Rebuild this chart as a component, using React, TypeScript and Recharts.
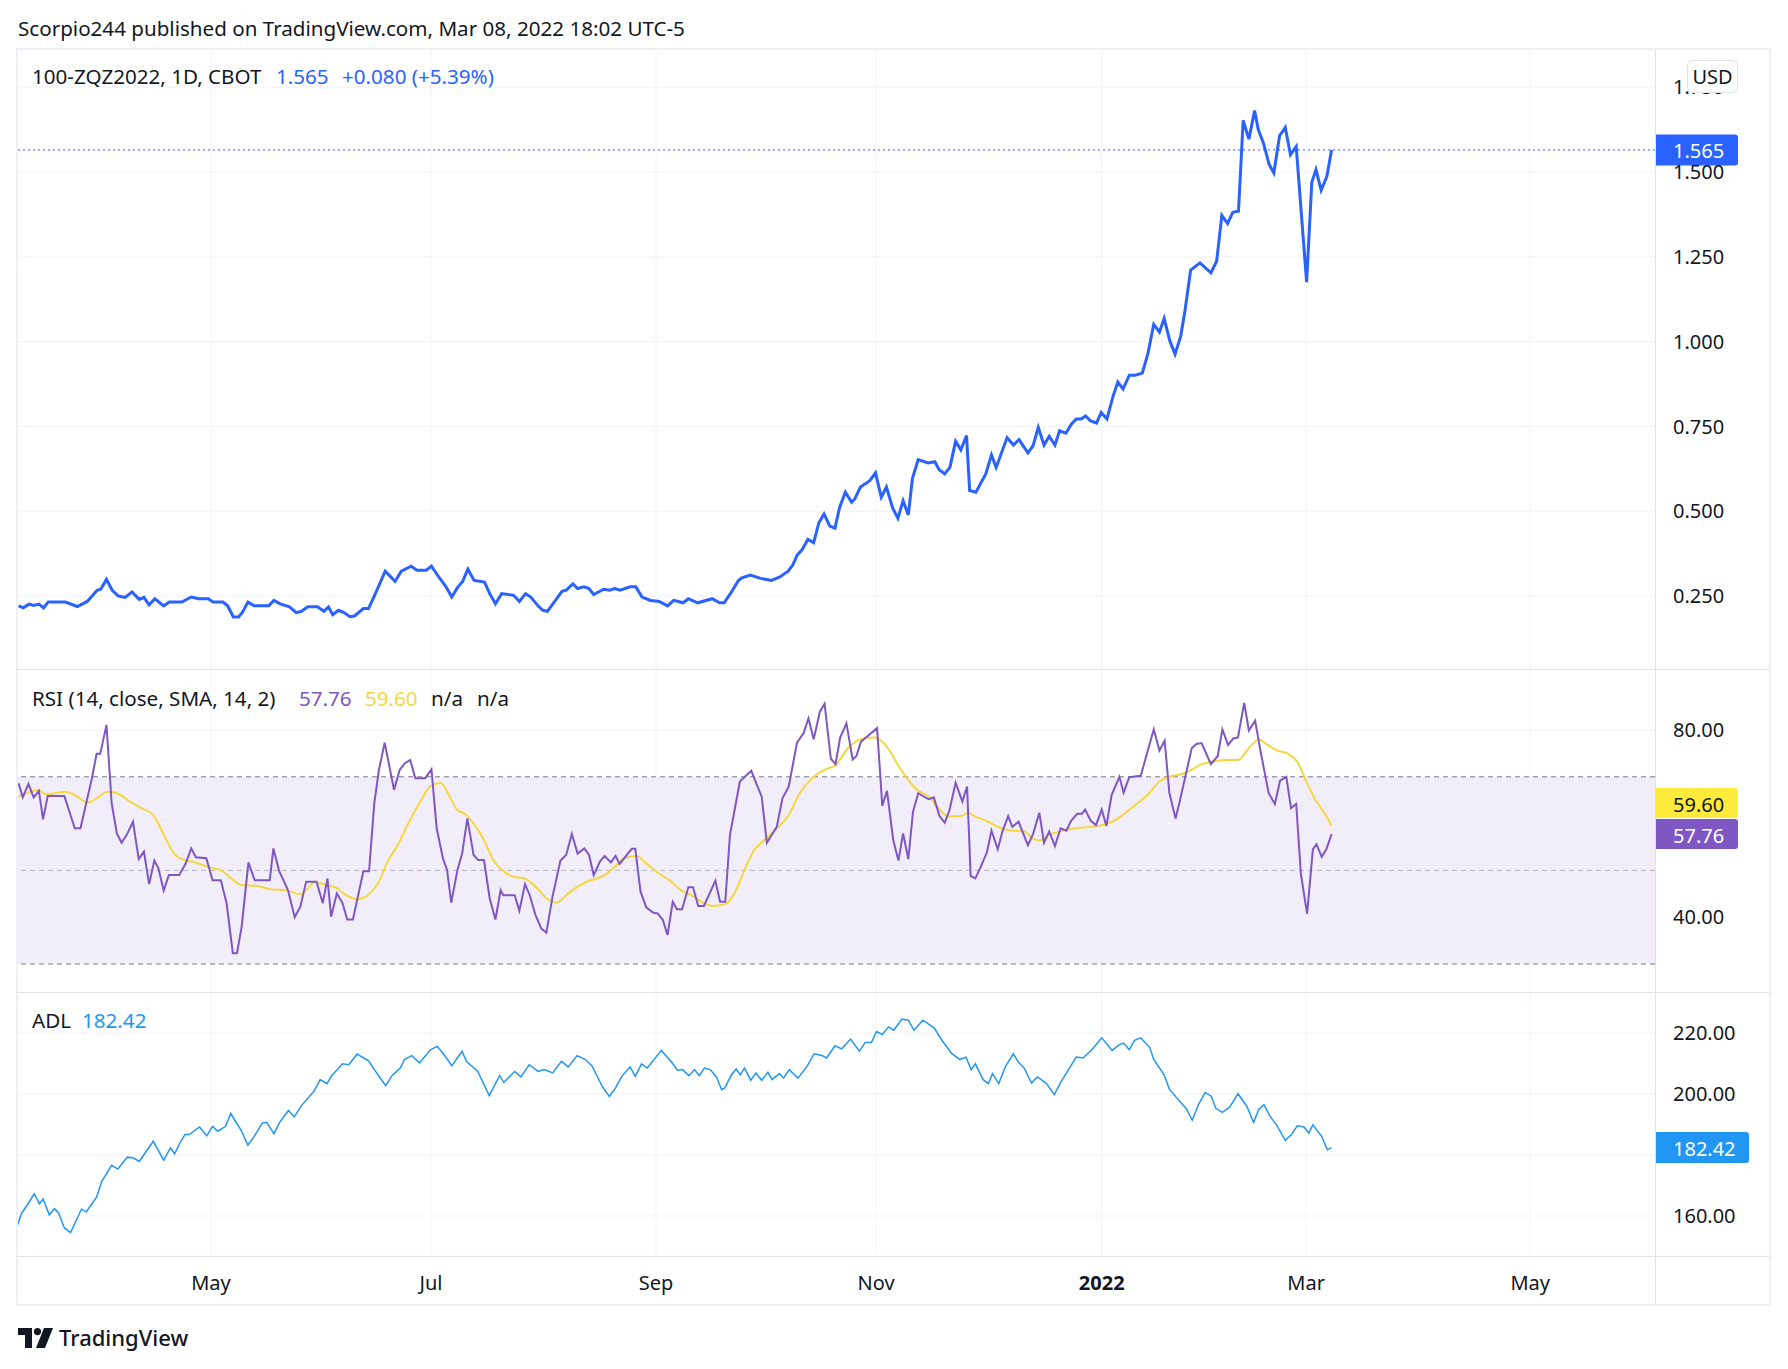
import React from 'react';
import { LineChart, Line, XAxis, YAxis, ReferenceLine, ReferenceArea } from 'recharts';

const FONT = '"Noto Sans", "Open Sans", sans-serif';
const INK = '#131722';
const BLUE = '#2962ff';
const PURPLE = '#7e57c2';
const YELLOW = '#f5d73c';
const ADL_BLUE = '#2196f3';
const GRID = '#f0f3fa';
const EDGE = '#e0e3eb';

// time axis (bar index) ticks
const monthTicks = [37.5, 79.8, 123.1, 165.4, 208.8, 248.1, 291.2];
const monthLabels = ['May', 'Jul', 'Sep', 'Nov', '2022', 'Mar', 'May'];

// 100-ZQZ2022 close
const priceBars = [
  0.5, 1.4, 2.5, 3.4, 4.4, 5.3, 6.2, 9.5, 11.8, 13.7, 15.6, 16.3, 17.4, 18.5, 19.7, 21.0, 22.3, 23.7, 24.6, 25.6,
  26.7, 28.4, 29.5, 31.9, 33.7, 35.1, 37.0, 37.9, 39.8, 40.7, 41.8, 42.8, 43.5, 44.6, 45.8, 48.6, 49.6, 50.8, 52.6, 53.9,
  54.9, 56.1, 58.0, 59.2, 60.1, 60.9, 62.0, 63.1, 64.2, 65.1, 66.8, 67.8, 68.9, 69.8, 71.0, 72.9, 74.1, 76.0, 77.1, 78.9,
  79.9, 81.3, 82.7, 83.8, 85.0, 85.9, 86.9, 88.1, 90.1, 91.1, 92.2, 93.4, 95.7, 96.8, 98.0, 99.0, 100.4, 101.3, 102.2, 105.0,
  105.8, 107.1, 108.0, 109.2, 110.2, 111.1, 113.0, 114.2, 115.1, 116.2, 118.1, 119.2, 120.4, 122.0, 123.7, 125.3, 126.5, 128.3, 129.3, 131.1,
  133.9, 135.3, 136.2, 137.6, 138.9, 139.5, 141.2, 143.2, 145.3, 146.9, 148.5, 149.4, 150.2, 151.2, 152.3, 153.4, 154.4, 155.4, 156.5, 157.5,
  158.4, 159.5, 160.7, 161.3, 162.4, 164.2, 165.3, 166.4, 167.4, 168.6, 169.6, 170.6, 171.6, 172.4, 173.5, 175.4, 176.7, 177.5, 178.6, 179.6,
  180.7, 181.7, 182.8, 183.4, 184.6, 186.5, 187.6, 188.5, 190.6, 191.8, 192.9, 194.6, 195.6, 196.6, 197.7, 198.7, 199.8, 200.7, 201.9, 203.0,
  203.9, 204.9, 205.7, 206.6, 207.8, 208.7, 209.8, 211.0, 211.9, 212.9, 214.1, 215.2, 216.6, 217.7, 218.8, 219.9, 220.8, 221.9, 222.9, 224.0,
  224.8, 225.9, 227.7, 229.8, 230.9, 231.9, 233.0, 234.0, 235.1, 236.0, 237.1, 238.2, 238.9, 239.9, 241.0, 241.9, 243.0, 244.1, 245.1, 246.2,
  248.2, 249.2, 250.0, 251.0, 252.1, 253.0,
];
const priceVals = [
  0.221, 0.215, 0.226, 0.222, 0.226, 0.215, 0.232, 0.232, 0.219, 0.234, 0.267, 0.270, 0.299, 0.267, 0.250, 0.246, 0.262, 0.240, 0.246, 0.224,
  0.242, 0.221, 0.232, 0.232, 0.247, 0.242, 0.242, 0.232, 0.232, 0.221, 0.188, 0.188, 0.201, 0.232, 0.221, 0.221, 0.237, 0.227, 0.218, 0.201,
  0.205, 0.218, 0.218, 0.205, 0.218, 0.195, 0.208, 0.201, 0.189, 0.191, 0.213, 0.213, 0.250, 0.281, 0.323, 0.293, 0.323, 0.338, 0.326, 0.326,
  0.338, 0.306, 0.277, 0.247, 0.277, 0.293, 0.329, 0.296, 0.291, 0.257, 0.227, 0.257, 0.252, 0.234, 0.257, 0.247, 0.221, 0.208, 0.205, 0.264,
  0.267, 0.286, 0.272, 0.277, 0.272, 0.254, 0.270, 0.267, 0.272, 0.267, 0.277, 0.277, 0.247, 0.237, 0.234, 0.221, 0.237, 0.230, 0.242, 0.230,
  0.242, 0.230, 0.230, 0.262, 0.295, 0.303, 0.312, 0.302, 0.296, 0.306, 0.323, 0.342, 0.370, 0.387, 0.417, 0.407, 0.466, 0.492, 0.456, 0.450,
  0.512, 0.556, 0.526, 0.536, 0.571, 0.590, 0.613, 0.541, 0.571, 0.509, 0.479, 0.531, 0.489, 0.597, 0.652, 0.642, 0.646, 0.623, 0.610, 0.629,
  0.706, 0.681, 0.723, 0.561, 0.556, 0.610, 0.666, 0.629, 0.717, 0.695, 0.711, 0.672, 0.693, 0.747, 0.695, 0.721, 0.695, 0.737, 0.730, 0.757,
  0.772, 0.772, 0.781, 0.767, 0.760, 0.791, 0.772, 0.840, 0.881, 0.860, 0.901, 0.901, 0.907, 0.966, 1.051, 1.028, 1.068, 1.002, 0.963, 1.017,
  1.090, 1.211, 1.232, 1.203, 1.237, 1.372, 1.348, 1.381, 1.384, 1.652, 1.597, 1.681, 1.625, 1.585, 1.522, 1.497, 1.607, 1.631, 1.551, 1.575,
  1.175, 1.470, 1.507, 1.446, 1.487, 1.565,
];

// RSI (14)
const rsiBars = [
  0.5, 1.3, 2.4, 3.4, 4.4, 5.2, 6.1, 9.3, 11.3, 12.4, 14.6, 15.5, 16.2, 17.4, 18.4, 19.4, 20.3, 21.3, 22.5, 23.6,
  24.6, 25.6, 26.6, 27.4, 28.4, 29.4, 31.4, 32.6, 33.7, 34.6, 36.6, 37.8, 39.4, 40.5, 41.7, 42.5, 43.4, 44.7, 45.9, 48.8,
  49.5, 50.6, 52.3, 53.6, 54.7, 55.8, 57.8, 59.0, 59.9, 60.6, 61.7, 62.8, 63.7, 64.8, 66.8, 67.9, 68.9, 69.8, 70.9, 72.7,
  73.8, 74.8, 75.8, 76.8, 78.7, 79.9, 80.9, 82.1, 82.9, 83.7, 84.9, 85.8, 86.8, 88.0, 88.9, 90.0, 91.1, 92.2, 93.2, 93.7,
  95.9, 96.8, 97.9, 98.8, 99.9, 101.0, 102.0, 103.2, 104.7, 105.8, 106.9, 108.0, 109.3, 110.2, 111.1, 112.3, 113.2, 114.4, 115.3, 116.1,
  118.4, 119.1, 120.1, 121.2, 122.5, 123.4, 124.4, 125.3, 126.3, 127.1, 128.1, 129.3, 130.2, 131.2, 132.3, 134.5, 135.4, 136.4, 137.3, 138.2,
  139.2, 141.4, 142.5, 143.4, 144.4, 146.3, 147.4, 148.6, 150.2, 151.5, 152.4, 153.4, 154.6, 155.5, 156.7, 157.6, 158.5, 159.7, 160.9, 161.6,
  162.5, 164.2, 165.6, 166.6, 167.5, 168.7, 169.7, 170.6, 171.6, 172.5, 173.5, 175.5, 176.5, 177.6, 178.6, 179.5, 180.7, 182.0, 182.9, 183.6,
  184.5, 185.5, 186.7, 187.6, 188.8, 189.7, 190.8, 191.6, 192.8, 194.6, 195.6, 196.8, 197.7, 198.7, 199.8, 200.9, 202.0, 202.9, 204.1, 205.0,
  205.6, 206.7, 207.7, 208.8, 209.7, 210.7, 212.2, 213.0, 214.1, 216.3, 218.8, 219.9, 220.9, 221.8, 223.0, 223.9, 226.1, 227.0, 228.0, 229.8,
  231.1, 232.0, 233.1, 234.1, 235.0, 236.2, 237.1, 238.3, 239.3, 240.9, 242.1, 243.1, 244.3, 245.2, 246.2, 247.1, 248.3, 249.4, 250.1, 251.1,
  252.0, 253.0,
];
const rsiVals = [
  68.6, 65.6, 68.5, 65.6, 67.0, 60.9, 65.9, 65.9, 59.0, 59.0, 69.7, 74.9, 74.9, 81.1, 64.3, 57.9, 55.9, 57.6, 60.4, 52.4,
  54.0, 47.1, 52.1, 50.4, 45.7, 49.0, 49.0, 51.4, 54.7, 52.8, 52.6, 47.9, 47.9, 43.0, 32.3, 32.3, 38.0, 51.7, 47.9, 47.9,
  54.7, 49.9, 45.8, 40.0, 42.3, 47.6, 47.6, 43.0, 48.3, 40.1, 45.1, 43.0, 39.5, 39.5, 49.8, 49.8, 64.3, 71.5, 77.3, 67.2,
  71.5, 72.9, 73.6, 69.7, 69.7, 71.6, 59.0, 52.6, 50.1, 43.1, 50.1, 53.6, 61.1, 53.3, 52.2, 52.2, 44.0, 39.5, 45.8, 44.7,
  44.7, 41.4, 47.1, 44.7, 40.5, 37.6, 36.7, 44.5, 52.1, 53.3, 57.8, 53.6, 54.7, 53.3, 49.0, 51.9, 53.1, 51.7, 53.1, 51.4,
  54.6, 54.6, 45.5, 42.1, 41.0, 40.8, 39.4, 36.2, 43.3, 41.7, 41.7, 46.4, 46.4, 42.4, 42.4, 47.8, 43.3, 43.3, 57.6, 62.9,
  69.0, 71.3, 68.2, 65.8, 55.9, 59.3, 65.4, 67.9, 77.3, 79.4, 82.5, 78.0, 83.9, 85.6, 73.9, 72.7, 78.4, 81.4, 73.7, 74.4,
  77.5, 79.1, 80.4, 63.8, 67.0, 56.5, 52.1, 57.9, 52.4, 62.5, 66.5, 65.2, 65.6, 61.6, 60.2, 62.8, 68.7, 64.7, 67.9, 48.8,
  48.3, 50.7, 53.8, 58.5, 54.5, 58.3, 61.6, 59.3, 60.4, 55.4, 57.8, 62.3, 55.9, 58.3, 55.2, 59.0, 58.5, 60.6, 62.1, 62.1,
  63.0, 60.6, 59.7, 63.0, 59.5, 66.1, 70.0, 66.6, 69.9, 70.2, 80.1, 75.6, 77.7, 66.6, 61.1, 65.2, 76.1, 77.0, 77.2, 72.7,
  74.4, 80.1, 76.8, 78.2, 78.4, 85.8, 79.9, 82.0, 75.7, 66.5, 64.2, 69.2, 70.0, 63.3, 64.2, 49.2, 40.7, 54.5, 55.6, 52.9,
  54.5, 57.76,
];

// RSI-based SMA (14)
const smaBars = [
  0.5, 2.1, 4.3, 5.7, 7.6, 9.4, 11.3, 13.8, 16.0, 17.5, 19.4, 21.9, 24.1, 26.4, 28.6, 30.4, 31.9, 34.5, 37.0, 39.6,
  41.8, 43.3, 46.2, 48.8, 52.1, 54.7, 55.8, 57.6, 59.5, 61.7, 63.5, 65.7, 67.6, 69.8, 71.6, 73.4, 75.6, 77.9, 79.7, 81.7,
  83.4, 84.9, 86.3, 88.2, 90.0, 91.8, 93.7, 95.5, 97.7, 99.6, 102.1, 104.0, 105.8, 108.0, 110.2, 111.3, 113.2, 115.1, 117.0, 119.4,
  121.2, 123.6, 126.0, 127.9, 130.2, 132.6, 134.0, 136.4, 138.5, 139.7, 142.0, 143.9, 146.3, 148.6, 150.5, 152.9, 155.7, 157.6, 160.0, 162.3,
  165.2, 167.5, 169.9, 173.2, 175.7, 177.4, 179.3, 181.7, 183.1, 184.5, 186.9, 189.5, 191.6, 194.0, 195.4, 196.8, 198.7, 201.5, 203.9, 206.7,
  210.5, 212.4, 214.7, 217.6, 219.9, 221.8, 224.2, 226.1, 228.0, 229.8, 232.2, 235.0, 237.1, 239.0, 240.7, 242.6, 244.5, 246.4, 248.3, 250.1,
  251.9, 253.0,
];
const smaVals = [
  65.8, 66.5, 67.2, 66.3, 66.5, 66.8, 66.1, 64.5, 65.8, 66.8, 66.5, 64.7, 63.3, 61.8, 57.2, 53.6, 52.4, 51.7, 50.7, 49.9,
  47.9, 46.9, 46.7, 46.0, 45.7, 44.9, 45.8, 47.5, 46.9, 46.2, 44.7, 43.8, 44.7, 47.6, 52.2, 55.4, 60.4, 65.0, 68.0, 68.7,
  65.8, 62.9, 62.1, 59.7, 56.5, 52.2, 49.9, 48.7, 48.3, 46.9, 44.0, 43.1, 44.7, 46.5, 47.8, 48.1, 49.0, 50.7, 52.6, 53.1,
  51.5, 49.4, 47.6, 45.8, 44.5, 42.8, 42.4, 42.8, 45.8, 49.0, 54.4, 56.5, 59.0, 61.8, 66.1, 69.5, 71.6, 72.5, 76.1, 78.0,
  78.4, 76.4, 72.0, 67.3, 65.6, 63.3, 61.5, 61.6, 62.3, 61.5, 60.4, 59.0, 58.5, 58.3, 56.9, 56.4, 57.6, 58.5, 59.0, 59.3,
  60.2, 61.5, 63.5, 66.1, 69.0, 70.0, 70.6, 71.5, 72.7, 73.2, 73.6, 73.6, 76.1, 77.9, 76.8, 75.6, 75.0, 73.2, 68.6, 64.7,
  61.8, 59.6,
];

// Advance/Decline line
const adlBars = [
  0.2, 1.1, 2.2, 3.5, 4.5, 5.2, 6.4, 7.4, 8.2, 9.3, 10.5, 12.6, 13.5, 15.5, 16.5, 18.4, 19.6, 21.4, 22.6, 23.7,
  26.4, 28.4, 29.7, 30.5, 31.7, 32.5, 33.3, 35.3, 36.7, 37.8, 38.8, 40.3, 41.3, 43.3, 44.6, 45.8, 47.4, 48.2, 49.6, 50.7,
  52.4, 53.5, 54.9, 57.3, 58.5, 59.8, 60.7, 62.8, 64.0, 65.6, 67.8, 69.8, 71.1, 72.3, 73.9, 74.7, 76.1, 77.6, 79.7, 81.0,
  82.2, 83.8, 85.8, 86.6, 88.8, 91.0, 93.0, 93.8, 95.9, 97.1, 98.7, 100.4, 101.6, 103.2, 104.9, 106.2, 107.9, 109.5, 110.8, 112.8,
  114.1, 115.3, 116.5, 118.1, 119.1, 120.3, 121.4, 124.1, 126.1, 127.2, 128.2, 129.4, 130.5, 131.4, 132.4, 133.5, 134.7, 135.7, 136.3, 137.6,
  138.5, 139.3, 140.1, 141.3, 142.3, 143.4, 144.6, 145.4, 146.8, 147.6, 148.7, 150.4, 152.2, 153.5, 155.0, 155.9, 157.5, 158.8, 160.5, 162.2,
  163.3, 164.5, 165.5, 166.6, 167.8, 168.8, 170.4, 171.6, 172.7, 174.4, 176.6, 178.2, 179.9, 181.5, 182.7, 183.7, 184.5, 186.0, 187.0, 187.8,
  189.0, 190.3, 191.8, 192.8, 193.9, 195.3, 196.4, 198.1, 199.7, 200.9, 203.0, 203.9, 205.2, 206.9, 208.8, 210.8, 212.2, 213.0, 214.1, 215.1,
  216.3, 218.0, 218.8, 220.8, 221.8, 223.4, 225.1, 226.2, 227.4, 228.7, 229.9, 230.7, 232.0, 233.4, 235.0, 236.7, 238.0, 239.0, 240.0, 241.1,
  242.4, 244.1, 245.3, 246.4, 247.7, 248.6, 249.4, 251.1, 252.2, 253.0,
];
const adlVals = [
  156.6, 161.0, 163.7, 167.3, 164.0, 165.6, 160.4, 162.4, 161.0, 156.1, 154.6, 162.3, 161.3, 166.2, 171.4, 176.6, 175.4, 179.3, 179.0, 177.9,
  184.5, 178.3, 182.3, 180.4, 184.5, 186.7, 186.7, 189.2, 186.3, 189.4, 187.8, 189.4, 193.6, 188.1, 183.2, 186.1, 190.5, 190.7, 187.0, 190.7,
  194.6, 192.5, 196.2, 200.9, 204.7, 203.4, 206.0, 209.9, 209.6, 213.1, 210.9, 205.8, 202.7, 206.0, 208.5, 211.3, 212.6, 210.2, 214.5, 215.6,
  213.2, 209.3, 214.0, 210.7, 207.4, 199.5, 206.0, 203.8, 207.4, 205.6, 209.6, 207.4, 208.0, 206.9, 210.7, 208.9, 212.6, 211.3, 209.1, 202.3,
  199.2, 202.0, 205.8, 208.9, 205.8, 209.9, 208.5, 214.3, 210.4, 207.8, 208.0, 206.0, 208.0, 206.0, 208.5, 208.0, 205.6, 201.4, 202.0, 206.3,
  208.2, 206.3, 208.5, 204.5, 206.9, 204.5, 207.1, 204.7, 206.7, 205.2, 208.0, 205.2, 209.3, 213.2, 212.6, 211.8, 215.8, 214.8, 218.0, 214.0,
  216.9, 216.9, 220.5, 219.5, 222.0, 220.9, 224.6, 224.2, 220.9, 224.2, 221.6, 217.3, 213.4, 211.3, 212.1, 208.0, 209.9, 204.7, 203.4, 206.7,
  203.4, 209.1, 213.2, 210.4, 208.5, 203.6, 205.6, 203.6, 199.8, 203.8, 209.6, 212.1, 211.8, 214.5, 218.4, 214.3, 216.2, 216.7, 214.5, 217.6,
  218.4, 215.4, 211.3, 206.3, 201.6, 198.4, 195.1, 191.4, 196.5, 200.5, 199.2, 195.4, 194.0, 195.7, 200.1, 196.0, 190.7, 194.9, 196.5, 192.9,
  189.9, 184.8, 186.7, 189.6, 189.2, 187.2, 189.9, 186.1, 181.7, 182.42,
];

const priceTicks = [0.25, 0.5, 0.75, 1.0, 1.25, 1.5, 1.75];
const rsiGrid = [40, 60, 80];
const rsiTicks = [40, 80];
const adlGrid = [160, 180, 200, 220];
const adlTicks = [160, 200, 220];

const lastPrice = 1.565;
const lastRsi = 57.76;
const lastSma = 59.6;
const lastAdl = 182.42;

const toRows = (bars: number[], vals: number[]) => bars.map((i, k) => ({ i, v: vals[k] }));
const priceData = toRows(priceBars, priceVals);
const rsiData = toRows(rsiBars, rsiVals);
const smaData = toRows(smaBars, smaVals);
const adlData = toRows(adlBars, adlVals);

// layout
const LEFT = 16;
const CHART_W = 1754;
const AXIS_W = 115;
const BAR_DOMAIN: [number, number] = [0, 315.2];

const tickStyle = { fill: INK, fontSize: 20, fontFamily: FONT };

function Txt({ x, y, children, color = INK, size = 20.6, weight = 400 }: any) {
  return (
    <div
      style={{
        position: 'absolute', left: x, top: y - 15, height: 30, lineHeight: '30px',
        fontSize: size, color, fontWeight: weight, whiteSpace: 'nowrap', fontFamily: FONT,
      }}
    >
      {children}
    </div>
  );
}

function tag(text: string, bg: string, fg: string, w: number) {
  return (props: any) => {
    const vb = props.viewBox || {};
    const x = vb.x + vb.width;
    const y = vb.y;
    return (
      <g>
        <path d={`M${x},${y - 15.5} h${w - 3} a3,3 0 0 1 3,3 v25 a3,3 0 0 1 -3,3 h${-(w - 3)} z`} fill={bg} />
        <text x={x + 18} y={y + 1} dominantBaseline="central" fill={fg} fontSize={20} fontFamily={FONT}>{text}</text>
      </g>
    );
  };
}

// yellow MA tag stacked above the purple RSI tag
function rsiTags(props: any) {
  const vb = props.viewBox || {};
  const x = vb.x + vb.width;
  const y = vb.y;
  const w = 83;
  const box = (cy: number, bg: string, fg: string, text: string) => (
    <g>
      <path d={`M${x},${cy - 15} h${w - 3} a3,3 0 0 1 3,3 v24 a3,3 0 0 1 -3,3 h${-(w - 3)} z`} fill={bg} />
      <text x={x + 18} y={cy + 1} dominantBaseline="central" fill={fg} fontSize={20} fontFamily={FONT}>{text}</text>
    </g>
  );
  return (
    <g>
      {box(y - 31, '#ffeb3b', INK, lastSma.toFixed(2))}
      {box(y, PURPLE, '#ffffff', lastRsi.toFixed(2))}
    </g>
  );
}

const TimeTick = (props: any) => {
  const { x, y, payload } = props;
  const k = monthTicks.indexOf(payload.value);
  const label = monthLabels[k] ?? '';
  return (
    <text x={x} y={y + 26} textAnchor="middle" dominantBaseline="central" fill={INK}
      fontSize={20} fontFamily={FONT} fontWeight={label === '2022' ? 700 : 400}>
      {label}
    </text>
  );
};

const vGrid = () =>
  monthTicks.map((t) => <ReferenceLine key={`v${t}`} x={t} stroke={GRID} strokeWidth={1} />);

export default function App() {
  return (
    <div style={{ position: 'absolute', left: 0, top: 0, width: 1788, height: 1369, background: '#fff', fontFamily: FONT, overflow: 'hidden' }}>
      <Txt x={18} y={28}>Scorpio244 published on TradingView.com, Mar 08, 2022 18:02 UTC-5</Txt>

      {/* price pane */}
      <div style={{ position: 'absolute', left: LEFT, top: 49 }}>
        <LineChart width={CHART_W} height={620} margin={{ top: 0, right: 0, bottom: 0, left: 0 }}>
          <XAxis type="number" dataKey="i" domain={BAR_DOMAIN} hide allowDataOverflow />
          <YAxis orientation="right" width={AXIS_W} domain={[0.0348, 1.8626]} ticks={priceTicks}
            tickFormatter={(v: number) => v.toFixed(3)} tick={tickStyle} tickLine={false} axisLine={false}
            tickSize={0} tickMargin={18} allowDataOverflow interval={0} />
          {vGrid()}
          {priceTicks.map((t) => <ReferenceLine key={`h${t}`} y={t} stroke={GRID} />)}
          <ReferenceLine y={lastPrice} stroke={BLUE} strokeDasharray="2 3" label={tag(lastPrice.toFixed(3), BLUE, '#ffffff', 83)} />
          <Line data={priceData} dataKey="v" type="linear" stroke={BLUE} strokeWidth={3} dot={false} activeDot={false} isAnimationActive={false} />
        </LineChart>
      </div>

      {/* RSI pane */}
      <div style={{ position: 'absolute', left: LEFT, top: 669 }}>
        <LineChart width={CHART_W} height={323} margin={{ top: 0, right: 0, bottom: 0, left: 0 }}>
          <XAxis type="number" dataKey="i" domain={BAR_DOMAIN} hide allowDataOverflow />
          <YAxis orientation="right" width={AXIS_W} domain={[24.02, 93.03]} ticks={rsiTicks}
            tickFormatter={(v: number) => v.toFixed(2)} tick={tickStyle} tickLine={false} axisLine={false}
            tickSize={0} tickMargin={18} allowDataOverflow interval={0} />
          <ReferenceArea y1={30} y2={70} fill={PURPLE} fillOpacity={0.1} stroke="none" />
          {vGrid()}
          {rsiGrid.map((t) => <ReferenceLine key={`h${t}`} y={t} stroke={GRID} />)}
          <ReferenceLine y={70} stroke="#787b86" strokeDasharray="5 4" />
          <ReferenceLine y={50} stroke="rgba(120,123,134,0.5)" strokeDasharray="5 4" />
          <ReferenceLine y={30} stroke="#787b86" strokeDasharray="5 4" />
          <Line data={smaData} dataKey="v" type="monotone" stroke={YELLOW} strokeWidth={2} dot={false} activeDot={false} isAnimationActive={false} />
          <Line data={rsiData} dataKey="v" type="linear" stroke={PURPLE} strokeWidth={2} dot={false} activeDot={false} isAnimationActive={false} />
          <ReferenceLine y={lastRsi} stroke="none" label={rsiTags} />
        </LineChart>
      </div>

      {/* ADL pane + time axis */}
      <div style={{ position: 'absolute', left: LEFT, top: 992 }}>
        <LineChart width={CHART_W} height={313} margin={{ top: 0, right: 0, bottom: 0, left: 0 }}>
          <XAxis type="number" dataKey="i" domain={BAR_DOMAIN} ticks={monthTicks} interval={0} height={49}
            tick={TimeTick} tickLine={false} axisLine={false} tickSize={0} tickMargin={0} allowDataOverflow />
          <YAxis orientation="right" width={AXIS_W} domain={[146.89, 233.44]} ticks={adlTicks}
            tickFormatter={(v: number) => v.toFixed(2)} tick={tickStyle} tickLine={false} axisLine={false}
            tickSize={0} tickMargin={18} allowDataOverflow interval={0} />
          {vGrid()}
          {adlGrid.map((t) => <ReferenceLine key={`h${t}`} y={t} stroke={GRID} />)}
          <Line data={adlData} dataKey="v" type="linear" stroke={ADL_BLUE} strokeWidth={1.5} dot={false} activeDot={false} isAnimationActive={false} />
          <ReferenceLine y={lastAdl} stroke="none" label={tag(lastAdl.toFixed(2), ADL_BLUE, '#ffffff', 94)} />
        </LineChart>
      </div>

      {/* frame and separators */}
      <div style={{ position: 'absolute', left: 16, top: 48, width: 1755, height: 1258, border: '2px solid #eef0f5', boxSizing: 'border-box', pointerEvents: 'none' }} />
      <div style={{ position: 'absolute', left: 1655, top: 49, width: 1, height: 1256, background: EDGE }} />
      <div style={{ position: 'absolute', left: 16, top: 669, width: 1754, height: 1, background: EDGE }} />
      <div style={{ position: 'absolute', left: 16, top: 992, width: 1754, height: 1, background: EDGE }} />
      <div style={{ position: 'absolute', left: 16, top: 1256, width: 1754, height: 1, background: EDGE }} />

      {/* legends */}
      <Txt x={32} y={76}>100-ZQZ2022, 1D, CBOT</Txt>
      <Txt x={276} y={76} color={BLUE}>1.565</Txt>
      <Txt x={342} y={76} color={BLUE}>+0.080 (+5.39%)</Txt>

      <Txt x={32} y={698}>RSI (14, close, SMA, 14, 2)</Txt>
      <Txt x={299} y={698} color={PURPLE}>57.76</Txt>
      <Txt x={365} y={698} color={YELLOW}>59.60</Txt>
      <Txt x={431} y={698}>n/a</Txt>
      <Txt x={477} y={698}>n/a</Txt>

      <Txt x={32} y={1020}>ADL</Txt>
      <Txt x={82} y={1020} color={ADL_BLUE}>182.42</Txt>

      {/* currency badge */}
      <div style={{ position: 'absolute', left: 1687, top: 60, width: 51, height: 33, boxSizing: 'border-box', border: '1px solid #e0e3eb', borderRadius: 6, background: '#fff', fontSize: 20, lineHeight: '31px', textAlign: 'center', color: INK, fontFamily: FONT }}>USD</div>

      {/* branding */}
      <svg style={{ position: 'absolute', left: 18, top: 1328 }} width={36} height={20} viewBox="0 0 36 20">
        <path d="M0 0 H14 V20 H7 V7 H0 Z" fill={INK} />
        <circle cx={19.5} cy={3.6} r={3.6} fill={INK} />
        <path d="M26 0 H35 L27 20 H18 Z" fill={INK} />
      </svg>
      <Txt x={59} y={1337} size={22} weight={500}>TradingView</Txt>
    </div>
  );
}
